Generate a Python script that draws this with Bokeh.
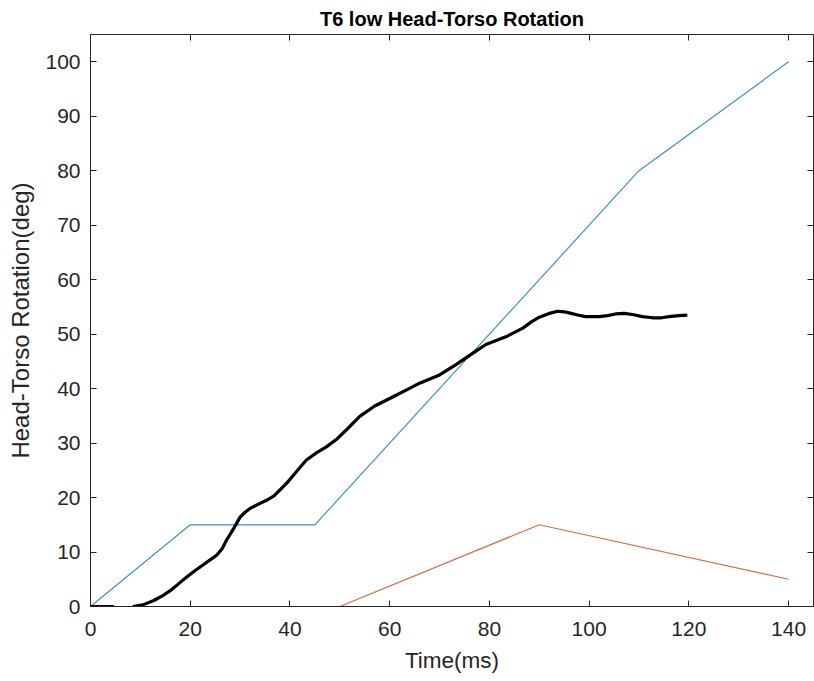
from bokeh.plotting import figure
from bokeh.models import Range1d, FixedTicker, LinearAxis, CustomJSTickFormatter
from bokeh.embed import file_html
from bokeh.resources import INLINE
import numpy as np

# Reference trajectories (corridor bounds)
upper_t = [0, 20, 45, 110, 140]
upper_deg = [0, 15, 15, 80, 100]
lower_t = [0, 50, 90, 140]
lower_deg = [0, 0, 15, 5]

# Measured head-torso rotation (gap where the signal dropped out)
meas_t = [0, 2, 4.7, np.nan, 8.5, 10.5, 12.7, 14.5, 16, 17.7, 19.3, 21, 22.7, 24.2, 25.3,
          26.4, 27.3, 28.7, 30, 31, 32, 33.7, 35.3, 36.8, 38, 39.4, 40.7, 42, 43.3, 45.3,
          47.3, 49.5, 51.3, 54, 57, 60.7, 63.5, 66, 70, 73.3, 76.7, 79.3, 83.3, 86.7, 88.5,
          90, 92, 93.7, 95, 96, 97.7, 99.3, 102, 103.7, 105.3, 107, 108.7, 110.7, 112.7,
          114.5, 116, 118, 119.7]
meas_deg = [0, 0, 0, np.nan, 0, 0.3, 1.1, 2, 2.9, 4.2, 5.4, 6.6, 7.7, 8.7, 9.4,
            10.6, 12.2, 14.3, 16.4, 17.3, 18, 18.8, 19.5, 20.3, 21.4, 22.7, 24.1, 25.5, 26.9, 28.2,
            29.3, 30.8, 32.4, 34.9, 36.8, 38.5, 39.8, 41, 42.5, 44.4, 46.5, 48.1, 49.5, 51.1, 52.3,
            53.1, 53.8, 54.2, 54.1, 53.9, 53.5, 53.2, 53.2, 53.4, 53.7, 53.8, 53.6, 53.2, 53.0,
            53.0, 53.2, 53.4, 53.5]

x_ticks = [0, 20, 40, 60, 80, 100, 120, 140]
y_ticks = [0, 10, 20, 30, 40, 50, 60, 70, 80, 90, 100]

AX = "#262626"
FONT = "Liberation Sans"

p = figure(width=814, height=681, output_backend="svg", toolbar_location=None,
           x_range=Range1d(0, 145), y_range=Range1d(0, 105),
           x_axis_label="Time(ms)", y_axis_label="Head-Torso Rotation(deg)",
           min_border_left=90, min_border_right=1, min_border_top=34,
           min_border_bottom=75, title="T6 low Head-Torso Rotation")

p.title.align = "center"
p.title.text_font = FONT
p.title.text_font_size = "20px"
p.title.text_font_style = "bold"
p.title.text_color = "#000000"
p.title.standoff = 9

p.grid.visible = False
p.outline_line_color = AX
p.outline_line_width = 1
p.background_fill_color = "white"
p.border_fill_color = "white"

p.xaxis.ticker = FixedTicker(ticks=x_ticks)
p.yaxis.ticker = FixedTicker(ticks=y_ticks)

for ax in (p.xaxis[0], p.yaxis[0]):
    ax.axis_line_color = AX
    ax.major_tick_line_color = AX
    ax.major_tick_in = 6
    ax.major_tick_out = 0
    ax.minor_tick_line_color = None
    ax.major_label_text_font = FONT
    ax.major_label_text_font_size = "21px"
    ax.major_label_text_color = AX
    ax.axis_label_text_font = FONT
    ax.axis_label_text_font_style = "normal"
    ax.axis_label_text_color = AX

p.xaxis.axis_label_text_font_size = "22.5px"
p.yaxis.axis_label_text_font_size = "24px"
p.xaxis.major_label_standoff = 15
p.yaxis.major_label_standoff = 10
p.xaxis.axis_label_standoff = 9
p.yaxis.axis_label_standoff = 8

# Box ticks on top and right, unlabeled
blank = CustomJSTickFormatter(code="return ''")
top_ax = LinearAxis(ticker=FixedTicker(ticks=x_ticks), major_tick_in=6, major_tick_out=0,
                    minor_tick_line_color=None, formatter=blank,
                    major_label_standoff=0, axis_line_color=AX, major_tick_line_color=AX)
right_ax = LinearAxis(ticker=FixedTicker(ticks=y_ticks), major_tick_in=6, major_tick_out=0,
                      minor_tick_line_color=None, formatter=blank,
                      major_label_standoff=0, axis_line_color=AX, major_tick_line_color=AX)
p.add_layout(top_ax, "above")
p.add_layout(right_ax, "right")

p.line(upper_t, upper_deg, line_color="#3a93c3", line_width=1.2)
p.line(lower_t, lower_deg, line_color="#db6d42", line_width=1.2)
p.line(meas_t, meas_deg, line_color="black", line_width=3.2, line_join="round")

open("out.html", "w").write(file_html(p, INLINE))
